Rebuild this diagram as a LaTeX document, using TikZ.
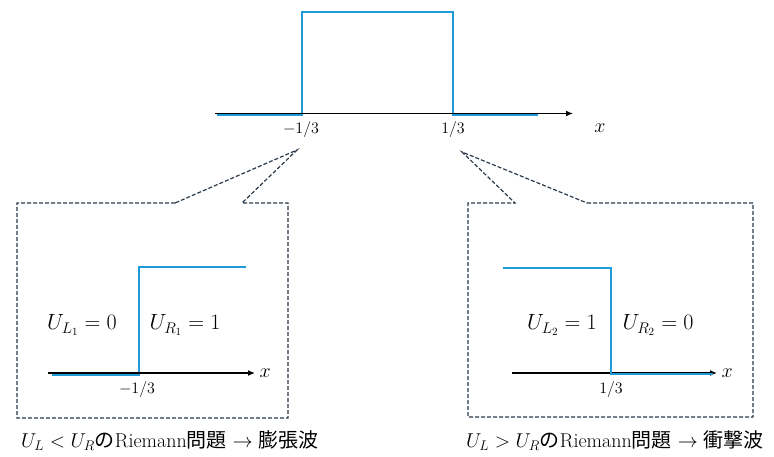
\RequirePackage{fix-cm}
\documentclass[tikz,border=0pt]{standalone}
\usepackage{amsmath}
\usepackage{fontspec}
\newfontfamily\jpfont{Noto Sans CJK JP}
\usetikzlibrary{arrows.meta,positioning,calc}
\definecolor{curve}{HTML}{1E9BD7}
\definecolor{frame}{HTML}{2B3A4A}

\begin{document}
\begin{tikzpicture}[x=1pt, y=-1pt,
  ax/.style={line width=1.6pt, -{Latex[length=7pt,width=6pt]}},
  prof/.style={draw=curve, line width=2pt},
  zoombox/.style={draw=frame, line width=1.2pt, dash pattern=on 4pt off 2pt},
  tick/.style={font=\fontsize{16}{18}\selectfont, inner sep=1pt},
  val/.style={font=\fontsize{22}{26}\selectfont},
  xlab/.style={font=\fontsize{20}{24}\selectfont},
  captxt/.style={font=\fontsize{20}{24}\selectfont}
]
\useasboundingbox (0,0) rectangle (774,457);

% initial data (top)
\coordinate (a0) at (215,113.5);
\coordinate (a1) at (573,113.5);
\coordinate (u0) at (217,115.5);
\coordinate (u1) at (302,115.5);
\coordinate (u2) at (302,12);
\coordinate (u3) at (453,12);
\coordinate (u4) at (453,115.5);
\coordinate (u5) at (538,115.5);
\draw[prof] (u0) -- (u1) -- (u2) -- (u3) -- (u4) -- (u5);
\draw[ax] (a0) -- (a1);
\node[tick] (m13) at (301,130) {$-1/3$};
\node[tick] (p13) at (453,130) {$1/3$};
\node[xlab] (x0) at (600,128) {$x$};

% zoom callouts
\coordinate (t1) at (297,150);
\coordinate (t2) at (462,152);
\draw[zoombox] (175,203) -- (17,203) -- (17,418) -- (288,418) -- (288,203) -- (242,203) -- (t1) -- cycle;
\draw[zoombox] (587,203) -- (753,203) -- (753,417) -- (468,417) -- (468,203) -- (515,203) -- (t2) -- cycle;

% left: U_L < U_R
\coordinate (la0) at (48,373);
\coordinate (la1) at (255,373);
\coordinate (l0) at (52,374.5);
\coordinate (l1) at (139,374.5);
\coordinate (l2) at (139,267);
\coordinate (l3) at (246,267);
\draw[prof] (l0) -- (l1) -- (l2) -- (l3);
\draw[ax] (la0) -- (la1);
\node[xlab, right=1pt of la1] (x1) {$x$};
\node[tick] (lm13) at (137,389) {$-1/3$};
\node[val] (ul1) at (82,325) {$U_{L_1}=0$};
\node[val] (ur1) at (185,325) {$U_{R_1}=1$};
\node[captxt] (cap1) at (170,441) {$U_L<U_R$\jpfont の\rmfamily Riemann\jpfont 問題\rmfamily\ $\rightarrow$ \jpfont 膨張波};

% right: U_L > U_R
\coordinate (ra0) at (512,373);
\coordinate (ra1) at (717,373);
\coordinate (r0) at (503,268);
\coordinate (r1) at (611,268);
\coordinate (r2) at (611,373.5);
\coordinate (r3) at (713,373.5);
\draw[ax] (ra0) -- (ra1);
\draw[prof] (r0) -- (r1) -- (r2) -- (r3);
\node[xlab, right=1pt of ra1] (x2) {$x$};
\node[tick] (rp13) at (611,389) {$1/3$};
\node[val] (ul2) at (562,325) {$U_{L_2}=1$};
\node[val] (ur2) at (658,325) {$U_{R_2}=0$};
\node[captxt] (cap2) at (615,441) {$U_L>U_R$\jpfont の\rmfamily Riemann\jpfont 問題\rmfamily\ $\rightarrow$ \jpfont 衝撃波};
\end{tikzpicture}
\end{document}
